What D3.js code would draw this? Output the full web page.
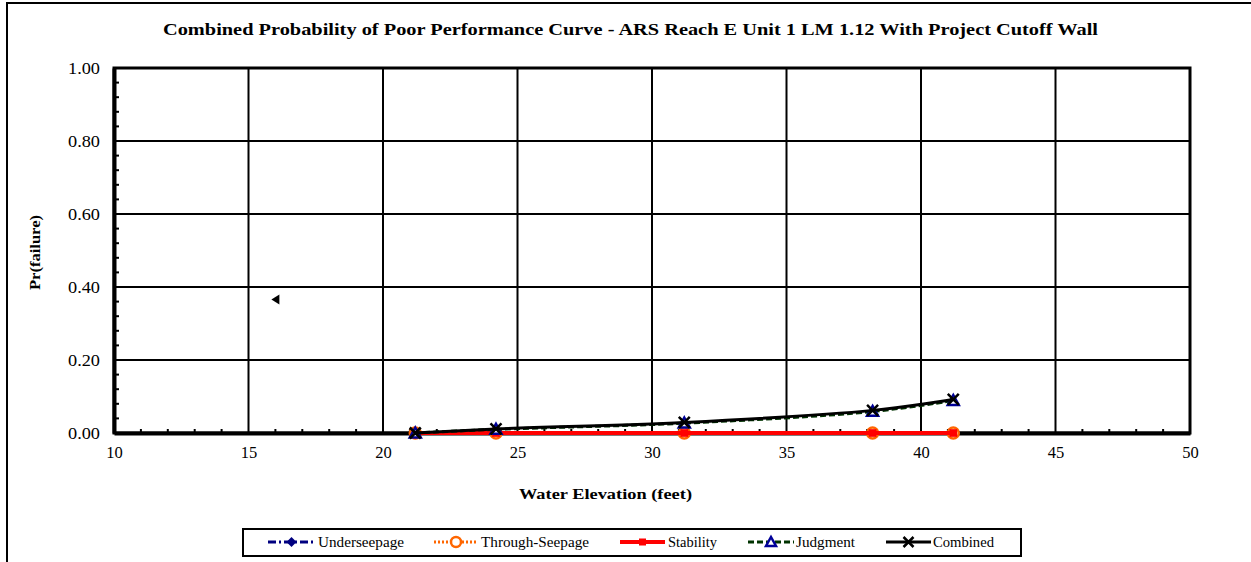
<!DOCTYPE html>
<html><head><meta charset="utf-8">
<script src="https://cdn.jsdelivr.net/npm/d3@7"></script>
<style>body{margin:0;background:#fff}svg{display:block}text{font-family:"Liberation Serif","Times New Roman",serif}</style>
</head><body><svg id="c" width="1251" height="562"></svg>
<script>
const elevations = [21.2, 24.2, 31.2, 38.2, 41.2];
const underseepage = [0, 0, 0, 0, 0];
const throughSeepage = [0, 0, 0, 0, 0];
const stability = [0, 0, 0, 0, 0];
const judgment = [0, 0.010, 0.027, 0.059, 0.089];
const combined = [0, 0.011, 0.029, 0.062, 0.092];
const seriesNames = ["Underseepage", "Through-Seepage", "Stability", "Judgment", "Combined"];
const xTicks = [10, 15, 20, 25, 30, 35, 40, 45, 50];
const yTicks = [0, 0.2, 0.4, 0.6, 0.8, 1.0];
const strayPoint = [16.0, 0.366];

const svg = d3.select("#c");
const W = 1251, H = 562;
const m = {l: 114, r: 1190, t: 68, b: 433};
const x = d3.scaleLinear().domain([10, 50]).range([m.l, m.r]);
const y = d3.scaleLinear().domain([0, 1]).range([m.b, m.t]);

svg.append("rect").attr("x", 0).attr("y", 0).attr("width", W).attr("height", H).attr("fill", "#fff");
svg.append("rect").attr("x", 7).attr("y", 3).attr("width", 1260).attr("height", 580)
  .attr("fill", "none").attr("stroke", "#000").attr("stroke-width", 2);

const SG = "spacingAndGlyphs";
// title
svg.append("text").attr("x", 163).attr("y", 35)
  .attr("font-size", 17.5).attr("font-weight", "bold")
  .attr("textLength", 935).attr("lengthAdjust", SG)
  .text("Combined Probability of Poor Performance Curve - ARS Reach E Unit 1 LM 1.12 With Project Cutoff Wall");

// grid
const g = svg.append("g");
g.selectAll(".vg").data(xTicks.slice(1, -1)).enter().append("line")
  .attr("x1", d => x(d)).attr("x2", d => x(d)).attr("y1", m.t).attr("y2", m.b)
  .attr("stroke", "#000").attr("stroke-width", 2);
g.selectAll(".hg").data(yTicks.slice(1, -1)).enter().append("line")
  .attr("x1", m.l).attr("x2", m.r).attr("y1", d => y(d)).attr("y2", d => y(d))
  .attr("stroke", "#000").attr("stroke-width", 2);

svg.append("rect").attr("x", m.l).attr("y", m.t).attr("width", m.r - m.l).attr("height", m.b - m.t)
  .attr("fill", "none").attr("stroke", "#000").attr("stroke-width", 3);

// axes
const xAxis = d3.axisBottom(x).tickValues(xTicks).tickFormat(d3.format("d")).tickSize(0).tickPadding(13);
const xa = svg.append("g").attr("transform", `translate(0,${m.b})`).call(xAxis);
xa.select(".domain").attr("stroke", "#000").attr("stroke-width", 4);
xa.selectAll("text").attr("font-size", 16.5).attr("font-family", "Liberation Serif");

const yAxis = d3.axisLeft(y).tickValues(yTicks).tickFormat(d3.format(".2f")).tickSize(0).tickPadding(14);
const ya = svg.append("g").attr("transform", `translate(${m.l},0)`).call(yAxis);
ya.select(".domain").attr("stroke", "#000").attr("stroke-width", 4);
ya.selectAll("text").attr("font-size", 16.5).attr("font-family", "Liberation Serif")
  .attr("textLength", 32).attr("lengthAdjust", SG);

// minor ticks
const xMinor = d3.range(11, 50, 1).filter(v => v % 5 !== 0);
svg.selectAll(".xm").data(xMinor).enter().append("line")
  .attr("x1", d => x(d)).attr("x2", d => x(d)).attr("y1", m.b).attr("y2", m.b - 4)
  .attr("stroke", "#000").attr("stroke-width", 2);
const yMinor = d3.range(1, 25).map(i => i * 0.04).filter(v => Math.abs(v / 0.2 - Math.round(v / 0.2)) > 1e-6);
svg.selectAll(".ym").data(yMinor).enter().append("line")
  .attr("x1", m.l).attr("x2", m.l + 5).attr("y1", d => y(d)).attr("y2", d => y(d))
  .attr("stroke", "#000").attr("stroke-width", 2);

// axis titles
svg.append("text").attr("x", 519).attr("y", 499)
  .attr("font-size", 15).attr("font-weight", "bold")
  .attr("textLength", 173).attr("lengthAdjust", SG).text("Water Elevation (feet)");
svg.append("text").attr("transform", "translate(40,290) rotate(-90)")
  .attr("font-size", 15).attr("font-weight", "bold")
  .attr("textLength", 75).attr("lengthAdjust", SG).text("Pr(failure)");

// series
const styles = [
  {vals: underseepage, color: "#000080", dash: "8,3,2,3", w: 3, marker: "diamond"},
  {vals: throughSeepage, color: "#FF6600", dash: "2,2", w: 3, marker: "circle"},
  {vals: stability, color: "#FF0000", dash: null, w: 4, marker: "square"},
  {vals: judgment, color: "#003300", dash: "6,3", w: 3, marker: "triangle"},
  {vals: combined, color: "#000000", dash: null, w: 3, marker: "x"}
];
const line = d3.line().x(d => x(d[0])).y(d => y(d[1])).curve(d3.curveCatmullRom.alpha(0.5));

function drawMarker(sel, type, color, cx, cy, s) {
  if (type === "diamond") {
    sel.append("path").attr("d", `M${cx},${cy - s}L${cx + s},${cy}L${cx},${cy + s}L${cx - s},${cy}Z`).attr("fill", color);
  } else if (type === "circle") {
    sel.append("circle").attr("cx", cx).attr("cy", cy).attr("r", s).attr("fill", "#fff").attr("stroke", color).attr("stroke-width", 2.5);
  } else if (type === "square") {
    sel.append("rect").attr("x", cx - s * 0.7).attr("y", cy - s * 0.7).attr("width", s * 1.4).attr("height", s * 1.4).attr("fill", color);
  } else if (type === "triangle") {
    sel.append("path").attr("d", `M${cx},${cy - s}L${cx + s},${cy + s * 0.8}L${cx - s},${cy + s * 0.8}Z`).attr("fill", "#fff").attr("stroke", "#000099").attr("stroke-width", 2.5);
  } else if (type === "x") {
    sel.append("path").attr("d", `M${cx - s},${cy - s}L${cx + s},${cy + s}M${cx - s},${cy + s}L${cx + s},${cy - s}`).attr("stroke", color).attr("stroke-width", 2.5);
  }
}

styles.forEach(st => {
  const pts = elevations.map((e, i) => [e, st.vals[i]]);
  svg.append("path").attr("d", line(pts)).attr("fill", "none").attr("stroke", st.color)
    .attr("stroke-width", st.w).attr("stroke-dasharray", st.dash);
  pts.forEach(p => drawMarker(svg, st.marker, st.color, x(p[0]), y(p[1]), 5.5));
});

const sx = x(strayPoint[0]), sy = y(strayPoint[1]);
svg.append("path").attr("d", `M${sx - 4},${sy}L${sx + 4},${sy - 5}L${sx + 4},${sy + 5}Z`).attr("fill", "#000");

// legend
const lg = svg.append("g");
lg.append("rect").attr("x", 243).attr("y", 529).attr("width", 778).attr("height", 27)
  .attr("fill", "#fff").attr("stroke", "#000").attr("stroke-width", 2);
const legX = [[268, 315, 318, 86], [434, 478, 481, 108], [620, 665, 668, 49], [748, 794, 796, 59], [886, 931, 933, 61]];
seriesNames.forEach((n, i) => {
  const st = styles[i], ly = 542;
  lg.append("line").attr("x1", legX[i][0]).attr("x2", legX[i][1]).attr("y1", ly).attr("y2", ly)
    .attr("stroke", st.color).attr("stroke-width", st.w).attr("stroke-dasharray", st.dash);
  drawMarker(lg, st.marker, st.color, (legX[i][0] + legX[i][1]) / 2, ly, 5);
  lg.append("text").attr("x", legX[i][2]).attr("y", ly + 5).attr("font-size", 15)
    .attr("textLength", legX[i][3]).attr("lengthAdjust", SG).text(n);
});
</script></body></html>
